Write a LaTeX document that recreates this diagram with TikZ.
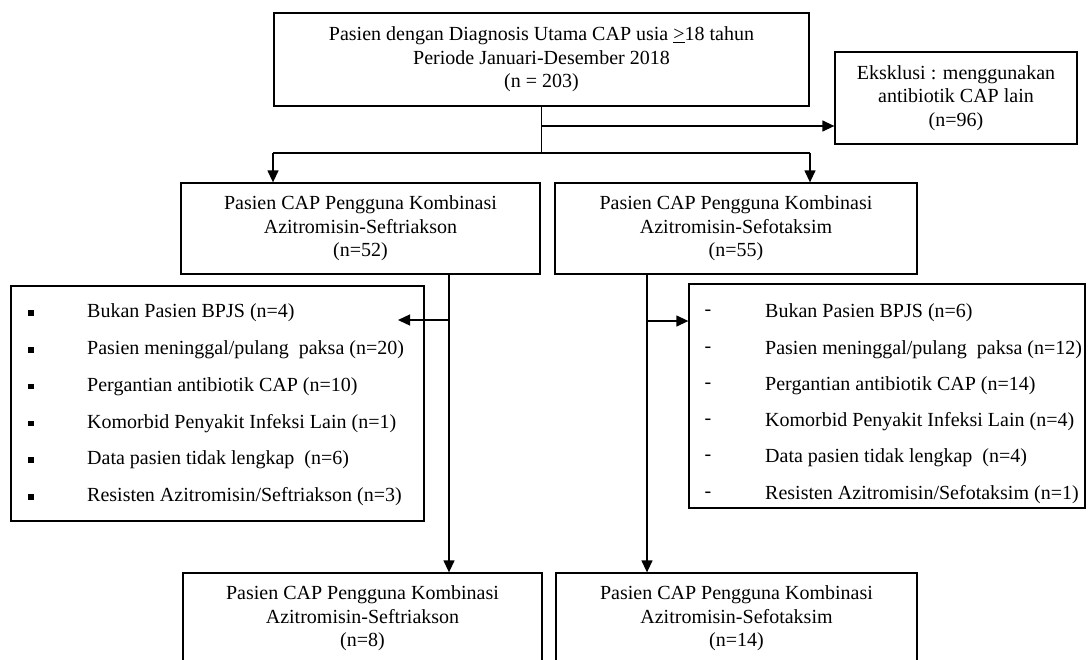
\documentclass[tikz,border=0pt]{standalone}
\usepackage{fontspec}
\setmainfont{Liberation Serif}
\usetikzlibrary{arrows.meta}
\begin{document}
\begin{tikzpicture}[x=1pt,y=-1pt,
  every node/.style={font=\fontsize{20}{23.5}\selectfont, inner sep=0pt},
  box/.style={draw, line width=1.3pt, align=center},
  conn/.style={line width=1.3pt},
  arr/.style={conn, -{Triangle[length=12pt,width=11pt]}},
  item/.style={anchor=west},
  bullet/.style={fill, minimum size=5.5pt, inner sep=0pt}
]
\path[use as bounding box] (0,0) rectangle (1089,659);
\begin{scope}
\clip (0,0) rectangle (1089,659);
% boxes
\node[box, minimum width=535pt, minimum height=93pt] (top) at (541.5,59.5)
  {Pasien dengan Diagnosis Utama CAP usia \underline{>}18 tahun\\Periode Januari-Desember 2018\\(n = 203)};
\node[box, minimum width=242pt, minimum height=92pt] (eks) at (956,98)
  {Eksklusi : menggunakan\\antibiotik CAP lain\\(n=96)};
\node[box, minimum width=359pt, minimum height=91pt] (m1) at (360.5,228.5)
  {Pasien CAP Pengguna Kombinasi\\Azitromisin-Seftriakson\\(n=52)};
\node[box, minimum width=362pt, minimum height=91pt] (m2) at (736,228.5)
  {Pasien CAP Pengguna Kombinasi\\Azitromisin-Sefotaksim\\(n=55)};
\node[box, minimum width=413pt, minimum height=235pt] (l1) at (217.5,403.5) {};
\node[box, minimum width=396pt, minimum height=224pt] (l2) at (887,396) {};
\node[box, minimum width=359pt, minimum height=91pt] (b1) at (362.5,618.5)
  {Pasien CAP Pengguna Kombinasi\\Azitromisin-Seftriakson\\(n=8)};
\node[box, minimum width=361pt, minimum height=91pt] (b2) at (736.5,618.5)
  {Pasien CAP Pengguna Kombinasi\\Azitromisin-Sefotaksim\\(n=14)};
% list items
\foreach \t [count=\i] in {Bukan Pasien BPJS (n=4),
  Pasien meninggal/pulang\enspace paksa (n=20),
  Pergantian antibiotik CAP (n=10),
  Komorbid Penyakit Infeksi Lain (n=1),
  Data pasien tidak lengkap\enspace(n=6),
  Resisten Azitromisin/Seftriakson (n=3)} {
  \node[bullet] (LB\i) at (31,{313+(\i-1)*36.8}) {};
  \node[item] (LT\i) at (87,{313+(\i-1)*36.8}) {\t};
}
\foreach \t [count=\i] in {Bukan Pasien BPJS (n=6),
  Pasien meninggal/pulang\enspace paksa (n=12),
  Pergantian antibiotik CAP (n=14),
  Komorbid Penyakit Infeksi Lain (n=4),
  Data pasien tidak lengkap\enspace(n=4),
  Resisten Azitromisin/Sefotaksim (n=1)} {
  \node (RD\i) at (708,{313+(\i-1)*36.3}) {-};
  \node[item] (RT\i) at (765,{313+(\i-1)*36.3}) {\t};
}
% connectors
\coordinate (j1) at (541.5,126);
\coordinate (j2) at (541.5,153);
\coordinate (hl) at (273,153);
\coordinate (hr) at (810,153);
\draw[conn] (top.south) -- (j2);
\draw[arr] (j1) -- (eks.west |- j1);
\draw[conn] (hl) -- (hr);
\draw[arr] (hl) -- (hl |- m1.north);
\draw[arr] (hr) -- (hr |- m2.north);
\coordinate (v1) at (449,320);
\coordinate (t1) at (398,320);
\draw[arr] (v1 |- m1.south) -- (v1 |- b1.north);
\draw[arr] (v1) -- (t1);
\coordinate (v2) at (647,321);
\draw[arr] (v2 |- m2.south) -- (v2 |- b2.north);
\draw[arr] (v2) -- (l2.west |- v2);
\end{scope}
\end{tikzpicture}
\end{document}
